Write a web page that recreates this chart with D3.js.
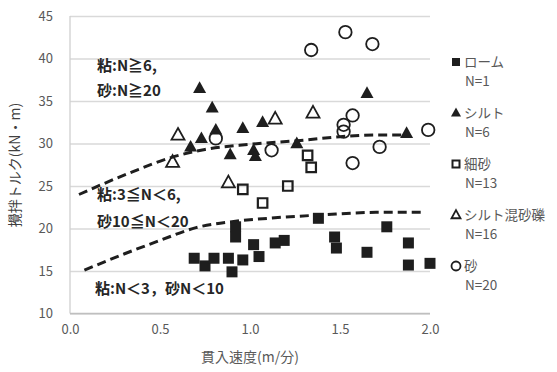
<!DOCTYPE html>
<html>
<head>
<meta charset="utf-8">
<script src="https://cdn.jsdelivr.net/npm/d3@7"></script>
<style>
  body { margin:0; background:#fff; }
  svg text { font-family:"Noto Sans CJK JP","Noto Sans",sans-serif; }
</style>
</head>
<body>
<div id="chart"></div>
<script>
// ローム (filled square)
var loam = [[0.69,16.5],[0.75,15.6],[0.80,16.5],[0.88,16.5],[0.90,14.9],[0.92,20.2],[0.92,19.0],
  [0.96,16.3],[1.02,18.1],[1.05,16.7],[1.14,18.3],[1.19,18.6],[1.38,21.2],[1.47,19.0],[1.48,17.7],
  [1.65,17.2],[1.76,20.2],[1.88,18.3],[1.88,15.7],[2.00,15.9]];
// シルト (filled triangle)
var silt = [[0.72,36.5],[0.79,34.2],[0.81,31.6],[0.73,30.6],[0.67,29.6],[0.96,31.8],[0.89,28.7],
  [1.02,29.2],[1.03,28.5],[1.07,32.5],[1.26,30.0],[1.65,35.9],[1.87,31.2]];
// 細砂 (open square)
var fineSand = [[0.96,24.6],[1.07,23.0],[1.21,25.0],[1.32,28.6],[1.34,27.2]];
// シルト混砂礫 (open triangle)
var siltGravel = [[0.60,31.0],[0.57,27.8],[0.88,25.4],[1.14,32.9],[1.35,33.6]];
// 砂 (open circle)
var sand = [[0.81,30.6],[1.34,41.0],[1.53,43.1],[1.68,41.7],[1.57,33.3],[1.52,32.2],[1.52,31.4],
  [1.12,29.2],[1.72,29.6],[1.57,27.7],[1.99,31.6]];
// boundary curves
var upperLine = [[0.05,24.0],[0.35,26.7],[0.57,28.4],[0.75,29.3],[1.00,29.9],[1.30,30.4],[1.50,30.8],[1.70,31.0],[1.88,31.0]];
var lowerLine = [[0.08,15.1],[0.30,17.0],[0.50,18.6],[0.70,20.1],[0.90,20.8],[1.10,21.2],[1.40,21.6],[1.70,21.9],[1.95,21.9]];

var xTicks = [0,0.5,1.0,1.5,2.0];
var yTicks = [10,15,20,25,30,35,40,45];
var legendNames = ["ローム","シルト","細砂","シルト混砂礫","砂"];
var legendN = ["N=1","N=6","N=13","N=16","N=20"];
var zoneLabels = [["粘:N≧6,","砂:N≧20"],["粘:3≦N＜6,","砂10≦N＜20"],["粘:N＜3，砂N＜10"]];

var W = 557, H = 372;
var svg = d3.select("#chart").append("svg").attr("width",W).attr("height",H);

var x = d3.scaleLinear().domain([0,2]).range([70,430]);
var y = d3.scaleLinear().domain([10,45]).range([313.5,16]);

// grid + y axis
var yAxis = svg.append("g").attr("transform","translate(70,0)")
  .call(d3.axisLeft(y).tickValues(yTicks).tickSize(-360).tickPadding(17));
yAxis.select(".domain").remove();
yAxis.selectAll("line").attr("stroke","#d9d9d9").attr("stroke-width",1.3);
yAxis.selectAll("text").attr("fill","#595959").style("font-size","13px");
svg.append("line").attr("x1",70).attr("x2",70).attr("y1",y(45)).attr("y2",y(10))
  .attr("stroke","#d0d0d0").attr("stroke-width",1.3);
svg.append("line").attr("x1",70).attr("x2",430).attr("y1",y(10)).attr("y2",y(10))
  .attr("stroke","#bfbfbf").attr("stroke-width",1.5);

var xAxis = svg.append("g").attr("transform","translate(0,"+y(10)+")")
  .call(d3.axisBottom(x).tickValues(xTicks).tickSize(0).tickPadding(11).tickFormat(d3.format(".1f")));
xAxis.select(".domain").remove();
xAxis.selectAll("text").attr("fill","#595959").style("font-size","13px");

svg.append("text").attr("x",250).attr("y",362).attr("text-anchor","middle")
  .attr("fill","#595959").style("font-size","14px").text("貫入速度(m/分)");
svg.append("text").attr("transform","translate(20,165) rotate(-90)").attr("text-anchor","middle")
  .attr("fill","#404040").style("font-size","14px").text("攪拌トルク(kN・m)");

// dashed boundary lines
var line = d3.line().x(function(d){return x(d[0]);}).y(function(d){return y(d[1]);}).curve(d3.curveMonotoneX);
[upperLine,lowerLine].forEach(function(l){
  svg.append("path").attr("d",line(l)).attr("fill","none").attr("stroke","#1e1e1e")
    .attr("stroke-width",3).attr("stroke-dasharray","9,5");
});

// zone labels
var zl = svg.append("g").attr("fill","#262626").style("font-size","15px").style("font-weight","bold");
zl.append("text").attr("x",97).attr("y",71).text(zoneLabels[0][0]);
zl.append("text").attr("x",97).attr("y",96).text(zoneLabels[0][1]);
zl.append("text").attr("x",97).attr("y",200).text(zoneLabels[1][0]);
zl.append("text").attr("x",97).attr("y",227).text(zoneLabels[1][1]);
zl.append("text").attr("x",95).attr("y",294).text(zoneLabels[2][0]);

// marker shapes
function sq(s){ return "M"+(-s/2)+","+(-s/2)+"h"+s+"v"+s+"h"+(-s)+"Z"; }
function tri(s){ var h=s*0.9; return "M0,"+(-h*0.6)+"L"+(s/2)+","+(h*0.4)+"L"+(-s/2)+","+(h*0.4)+"Z"; }
function circ(s){ var r=s/2; return "M"+r+",0A"+r+","+r+" 0 1,1 "+(-r)+",0A"+r+","+r+" 0 1,1 "+r+",0Z"; }

var series = [
  {data:fineSand, shape:sq, size:9.5, fill:"none", sw:2.2},
  {data:siltGravel, shape:tri, size:13, fill:"none", sw:1.8},
  {data:sand, shape:circ, size:12.5, fill:"none", sw:1.8},
  {data:loam, shape:sq, size:11, fill:"#1e1e1e", sw:0},
  {data:silt, shape:tri, size:13, fill:"#1e1e1e", sw:0}
];
series.forEach(function(s){
  svg.append("g").selectAll("path").data(s.data).enter().append("path")
    .attr("transform",function(d){return "translate("+x(d[0])+","+y(d[1])+")";})
    .attr("d",s.shape(s.size))
    .attr("fill",s.fill).attr("stroke","#1e1e1e").attr("stroke-width",s.sw);
});

// legend
var legShapes = [
  {shape:sq,size:8,fill:"#1e1e1e",sw:0},
  {shape:tri,size:10,fill:"#1e1e1e",sw:0},
  {shape:sq,size:7,fill:"none",sw:2},
  {shape:tri,size:9,fill:"none",sw:1.8},
  {shape:circ,size:9,fill:"none",sw:1.8}
];
var leg = svg.append("g");
legendNames.forEach(function(n,i){
  var ly = 62 + i*51;
  var s = legShapes[i];
  leg.append("path").attr("transform","translate(456,"+ly+")").attr("d",s.shape(s.size))
    .attr("fill",s.fill).attr("stroke","#1e1e1e").attr("stroke-width",s.sw);
  leg.append("text").attr("x",464).attr("y",ly+5).attr("fill","#595959").style("font-size","13.5px").text(n);
  leg.append("text").attr("x",465).attr("y",ly+24).attr("fill","#595959").style("font-size","13.5px").text(legendN[i]);
});
</script>
</body>
</html>
